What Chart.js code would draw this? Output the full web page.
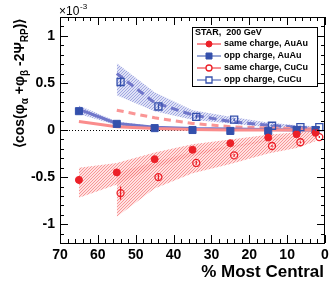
<!DOCTYPE html>
<html lang="en">
<head>
<meta charset="UTF-8">
<title>STAR charge-dependent correlations</title>
<script src="https://cdn.jsdelivr.net/npm/chart.js@4.4.0/dist/chart.umd.min.js"></script>
<style>
  html, body { margin: 0; padding: 0; background: #fff; }
  #wrap { width: 332px; height: 289px; position: relative; }
</style>
</head>
<body>
<div id="wrap"><canvas id="chart"></canvas></div>
<script>
// centrality bins, % most central
const centAu = [65, 55, 45, 35, 25, 15, 7.5, 2.5];
const centCuBand = [55, 45, 35, 25, 15, 7.5, 2.5];
const centCu = [54, 44, 34, 24, 14, 6.5, 1.5];   // CuCu markers shifted for visibility

// measured correlator, units of 1e-3
const sameAu = [-0.53, -0.45, -0.31, -0.21, -0.14, -0.08, -0.045, -0.03];
const sameAuErr = [0.04, 0.02, 0.015, 0.01, 0.01, 0.01, 0.01, 0.01];
const oppAu = [0.20, 0.065, 0.02, 0.0, -0.01, -0.01, 0.0, 0.0];
const oppAuErr = [0.03, 0.01, 0.01, 0.01, 0.01, 0.01, 0.01, 0.01];
const sameCu = [-0.67, -0.50, -0.35, -0.27, -0.17, -0.13, -0.075];
const sameCuErr = [0.07, 0.03, 0.02, 0.015, 0.01, 0.01, 0.01];
const oppCu = [0.51, 0.25, 0.14, 0.11, 0.045, 0.03, 0.03];
const oppCuErr = [0.05, 0.03, 0.02, 0.015, 0.01, 0.01, 0.01];

// v2 systematic bands
const sameAuHi = [-0.40, -0.35, -0.24, -0.15, -0.10, -0.05, -0.025, -0.01];
const sameAuLo = [-0.72, -0.58, -0.40, -0.28, -0.19, -0.12, -0.075, -0.04];
const oppAuHi = [0.26, 0.09, 0.04, 0.02, 0.01, 0.01, 0.005, 0.005];
const oppAuLo = [0.17, 0.05, 0.015, 0.0, -0.005, -0.005, -0.005, -0.005];
const sameCuHi = [-0.45, -0.34, -0.23, -0.17, -0.10, -0.07, -0.04];
const sameCuLo = [-0.92, -0.62, -0.46, -0.36, -0.25, -0.19, -0.12];
const oppCuHi = [0.71, 0.40, 0.21, 0.14, 0.08, 0.05, 0.04];
const oppCuLo = [0.37, 0.20, 0.11, 0.07, 0.03, 0.015, 0.01];

// HIJING three-particle background lines
const hijSameAu = [0.09, 0.035, 0.015, 0.005, 0.0, 0.0, 0.0, 0.0];
const hijOppAu = [0.22, 0.07, 0.03, 0.015, 0.01, 0.005, 0.0, 0.0];
const hijSameCu = [0.21, 0.13, 0.07, 0.035, 0.02, 0.015, 0.01];
const hijOppCu = [0.60, 0.29, 0.16, 0.09, 0.05, 0.03, 0.02];

const xTicks = [0, 10, 20, 30, 40, 50, 60, 70];
const yTicks = [-1, -0.5, 0, 0.5, 1];
const yTickLabels = ['-1', '-0.5', '0', '0.5', '1'];
const legendTitle = 'STAR,  200 GeV';
const yTitleParts = [['\u27E8cos(\u03C6', 0], ['\u03B1', 1], [' +\u03C6', 0], ['\u03B2', 1], [' -2\u03A8', 0], ['RP', 1], [')\u27E9', 0]];
const xTitle = '% Most Central';

const FONT = '"Liberation Sans", Arial, sans-serif';
const RED = 'rgb(236,32,40)';
const BLUE = 'rgb(52,80,172)';

const pts = (xs, ys) => xs.map((x, i) => ({x, y: ys[i]}));

function hatch(line, bg) {
    const c = document.createElement('canvas');
    c.width = 3; c.height = 3;
    const g = c.getContext('2d');
    g.fillStyle = bg;
    g.fillRect(0, 0, 3, 3);
    g.fillStyle = line;
    g.fillRect(0, 2, 1, 1);
    g.fillRect(1, 1, 1, 1);
    g.fillRect(2, 0, 1, 1);
    return g.createPattern(c, 'repeat');
}
const redHatch = hatch('rgba(242,100,100,0.6)', 'rgba(255,195,195,0.5)');
const blueHatch = hatch('rgba(120,128,212,0.6)', 'rgba(192,198,238,0.5)');

function band(xs, lo, hi, pattern) {
    return [
        {data: pts(xs, lo), borderColor: 'rgba(0,0,0,0)', borderWidth: 0, pointRadius: 0, fill: false, order: 10},
        {data: pts(xs, hi), borderColor: 'rgba(0,0,0,0)', borderWidth: 0, pointRadius: 0, fill: '-1', backgroundColor: pattern, order: 10}
    ];
}

function hijing(xs, ys, color, dash) {
    return {data: pts(xs, ys), borderColor: color, borderWidth: 3, borderDash: dash, pointRadius: 0, fill: false, order: 5};
}

function marker(label, xs, ys, errs, style, color, filled, radius) {
    return {
        label, legend: true, errors: errs,
        data: pts(xs, ys), showLine: false, fill: false, order: 1,
        pointStyle: style, pointRadius: radius,
        backgroundColor: filled ? color : 'rgba(0,0,0,0)',
        borderColor: color, pointBorderWidth: filled ? 1 : 1.3,
        lineColor: color
    };
}

const datasets = [
    ...band(centAu, sameAuLo, sameAuHi, redHatch),
    ...band(centCuBand, sameCuLo, sameCuHi, redHatch),
    ...band(centCuBand, oppCuLo, oppCuHi, blueHatch),
    ...band(centAu, oppAuLo, oppAuHi, blueHatch),
    hijing(centAu, hijSameAu, 'rgb(250,140,140)', []),
    hijing(centAu, hijOppAu, 'rgb(112,118,202)', []),
    hijing(centCuBand, hijSameCu, 'rgb(250,150,150)', [7, 5]),
    hijing(centCuBand, hijOppCu, 'rgb(112,118,202)', [8, 5]),
    marker('same charge, AuAu', centAu, sameAu, sameAuErr, 'circle', RED, true, 3.5),
    marker('opp charge, AuAu', centAu, oppAu, oppAuErr, 'rect', BLUE, true, 5),
    marker('same charge, CuCu', centCu, sameCu, sameCuErr, 'circle', RED, false, 3.5),
    marker('opp charge, CuCu', centCu, oppCu, oppCuErr, 'rect', BLUE, false, 5)
];

function seg(ctx, x1, y1, x2, y2) {
    ctx.beginPath();
    ctx.moveTo(x1, y1);
    ctx.lineTo(x2, y2);
    ctx.stroke();
}

// ROOT style frame: dotted zero line, inward ticks, error bars, titles, legend
const rootStyle = {
    id: 'rootStyle',
    beforeDatasetsDraw(chart) {
        const {ctx, chartArea: a, scales: {y}} = chart;
        const py = Math.round(y.getPixelForValue(0)) + 0.5;
        ctx.save();
        ctx.strokeStyle = '#000';
        ctx.lineWidth = 1;
        ctx.setLineDash([1, 2]);
        seg(ctx, a.left, py, a.right, py);
        ctx.restore();
    },
    afterDatasetsDraw(chart) {
        const {ctx} = chart;
        ctx.save();
        chart.data.datasets.forEach((ds, i) => {
            if (!ds.errors) return;
            const meta = chart.getDatasetMeta(i);
            ctx.strokeStyle = ds.lineColor;
            ctx.lineWidth = 1.3;
            meta.data.forEach((p, j) => {
                const v = ds.data[j].y, e = ds.errors[j];
                const t = chart.scales.y.getPixelForValue(v + e);
                const b = chart.scales.y.getPixelForValue(v - e);
                seg(ctx, p.x, t, p.x, b);
            });
        });
        ctx.restore();
    },
    afterDraw(chart) {
        const {ctx, chartArea: a, scales: {x, y}} = chart;
        ctx.save();
        ctx.strokeStyle = '#000';
        ctx.lineWidth = 1;
        ctx.strokeRect(a.left + 0.5, a.top + 0.5, a.right - a.left - 1, a.bottom - a.top);
        for (let v = 0; v <= 70; v += 2) {
            const px = Math.round(x.getPixelForValue(v)) + 0.5;
            const len = v % 10 === 0 ? 8 : 4;
            seg(ctx, px, a.bottom, px, a.bottom - len);
            seg(ctx, px, a.top, px, a.top + len);
        }
        for (let k = -12; k <= 12; k++) {
            const py = Math.round(y.getPixelForValue(k / 10)) + 0.5;
            const len = k % 5 === 0 ? 8 : 4;
            seg(ctx, a.left, py, a.left + len, py);
            seg(ctx, a.right, py, a.right - len, py);
        }

        // exponent
        ctx.fillStyle = '#000';
        ctx.textBaseline = 'alphabetic';
        ctx.textAlign = 'left';
        ctx.font = '12px ' + FONT;
        ctx.fillText('\u00D710', 59, 15);
        ctx.font = '8px ' + FONT;
        ctx.fillText('-3', 80, 9);

        // x title
        ctx.font = 'bold 17px ' + FONT;
        ctx.textAlign = 'right';
        ctx.fillText(xTitle, 324, 277);

        // y title, rotated, with subscripts
        ctx.save();
        ctx.translate(24, 148);
        ctx.rotate(-Math.PI / 2);
        ctx.textAlign = 'left';
        let cx = 0;
        yTitleParts.forEach(([txt, sub]) => {
            ctx.font = sub ? 'bold 10px ' + FONT : 'bold 14px ' + FONT;
            ctx.fillText(txt, cx, sub ? 4 : 0);
            cx += ctx.measureText(txt).width;
        });
        ctx.restore();

        // legend
        const L = {x: 192, y: 27, w: 125, h: 59};
        ctx.fillStyle = '#fff';
        ctx.fillRect(L.x, L.y, L.w, L.h);
        ctx.strokeStyle = '#000';
        ctx.strokeRect(L.x + 0.5, L.y + 0.5, L.w, L.h);
        ctx.fillStyle = '#000';
        ctx.font = 'bold 9px ' + FONT;
        ctx.textAlign = 'left';
        ctx.textBaseline = 'middle';
        ctx.fillText(legendTitle, L.x + 3, L.y + 6);
        chart.data.datasets.filter(d => d.legend).forEach((d, i) => {
            const cy = L.y + 17 + i * 12;
            ctx.strokeStyle = d.lineColor;
            ctx.lineWidth = 1;
            seg(ctx, L.x + 5, cy, L.x + 29, cy);
            ctx.fillStyle = d.backgroundColor === 'rgba(0,0,0,0)' ? '#fff' : d.backgroundColor;
            ctx.strokeStyle = d.borderColor;
            ctx.lineWidth = d.pointBorderWidth;
            ctx.beginPath();
            if (d.pointStyle === 'rect') ctx.rect(L.x + 14, cy - 3, 6, 6);
            else ctx.arc(L.x + 17, cy, 3, 0, Math.PI * 2);
            ctx.fill();
            ctx.stroke();
            ctx.fillStyle = '#000';
            ctx.fillText(d.label, L.x + 32, cy);
        });
        ctx.restore();
    }
};

new Chart(document.getElementById('chart'), {
    type: 'line',
    data: {datasets},
    options: {
        responsive: true,
        maintainAspectRatio: false,
        animation: false,
        events: [],
        layout: {padding: {top: 17, right: 7, left: 0, bottom: 0}},
        plugins: {legend: {display: false}, tooltip: {enabled: false}},
        elements: {line: {tension: 0}},
        scales: {
            x: {
                type: 'linear', reverse: true, min: 0, max: 70,
                grid: {display: false, drawTicks: false},
                border: {display: false},
                afterBuildTicks: s => { s.ticks = xTicks.map(v => ({value: v})); },
                afterFit: s => { s.height = 46; },
                ticks: {padding: 4, color: '#000', maxRotation: 0, font: {family: FONT, size: 14, weight: 'bold'}}
            },
            y: {
                min: -1.2, max: 1.2,
                grid: {display: false, drawTicks: false},
                border: {display: false},
                afterBuildTicks: s => { s.ticks = yTicks.map(v => ({value: v})); },
                afterFit: s => { s.width = 60; },
                ticks: {
                    padding: 5, color: '#000', font: {family: FONT, size: 14, weight: 'bold'},
                    callback: v => yTickLabels[yTicks.indexOf(v)]
                }
            }
        }
    },
    plugins: [rootStyle]
});
</script>
</body>
</html>
